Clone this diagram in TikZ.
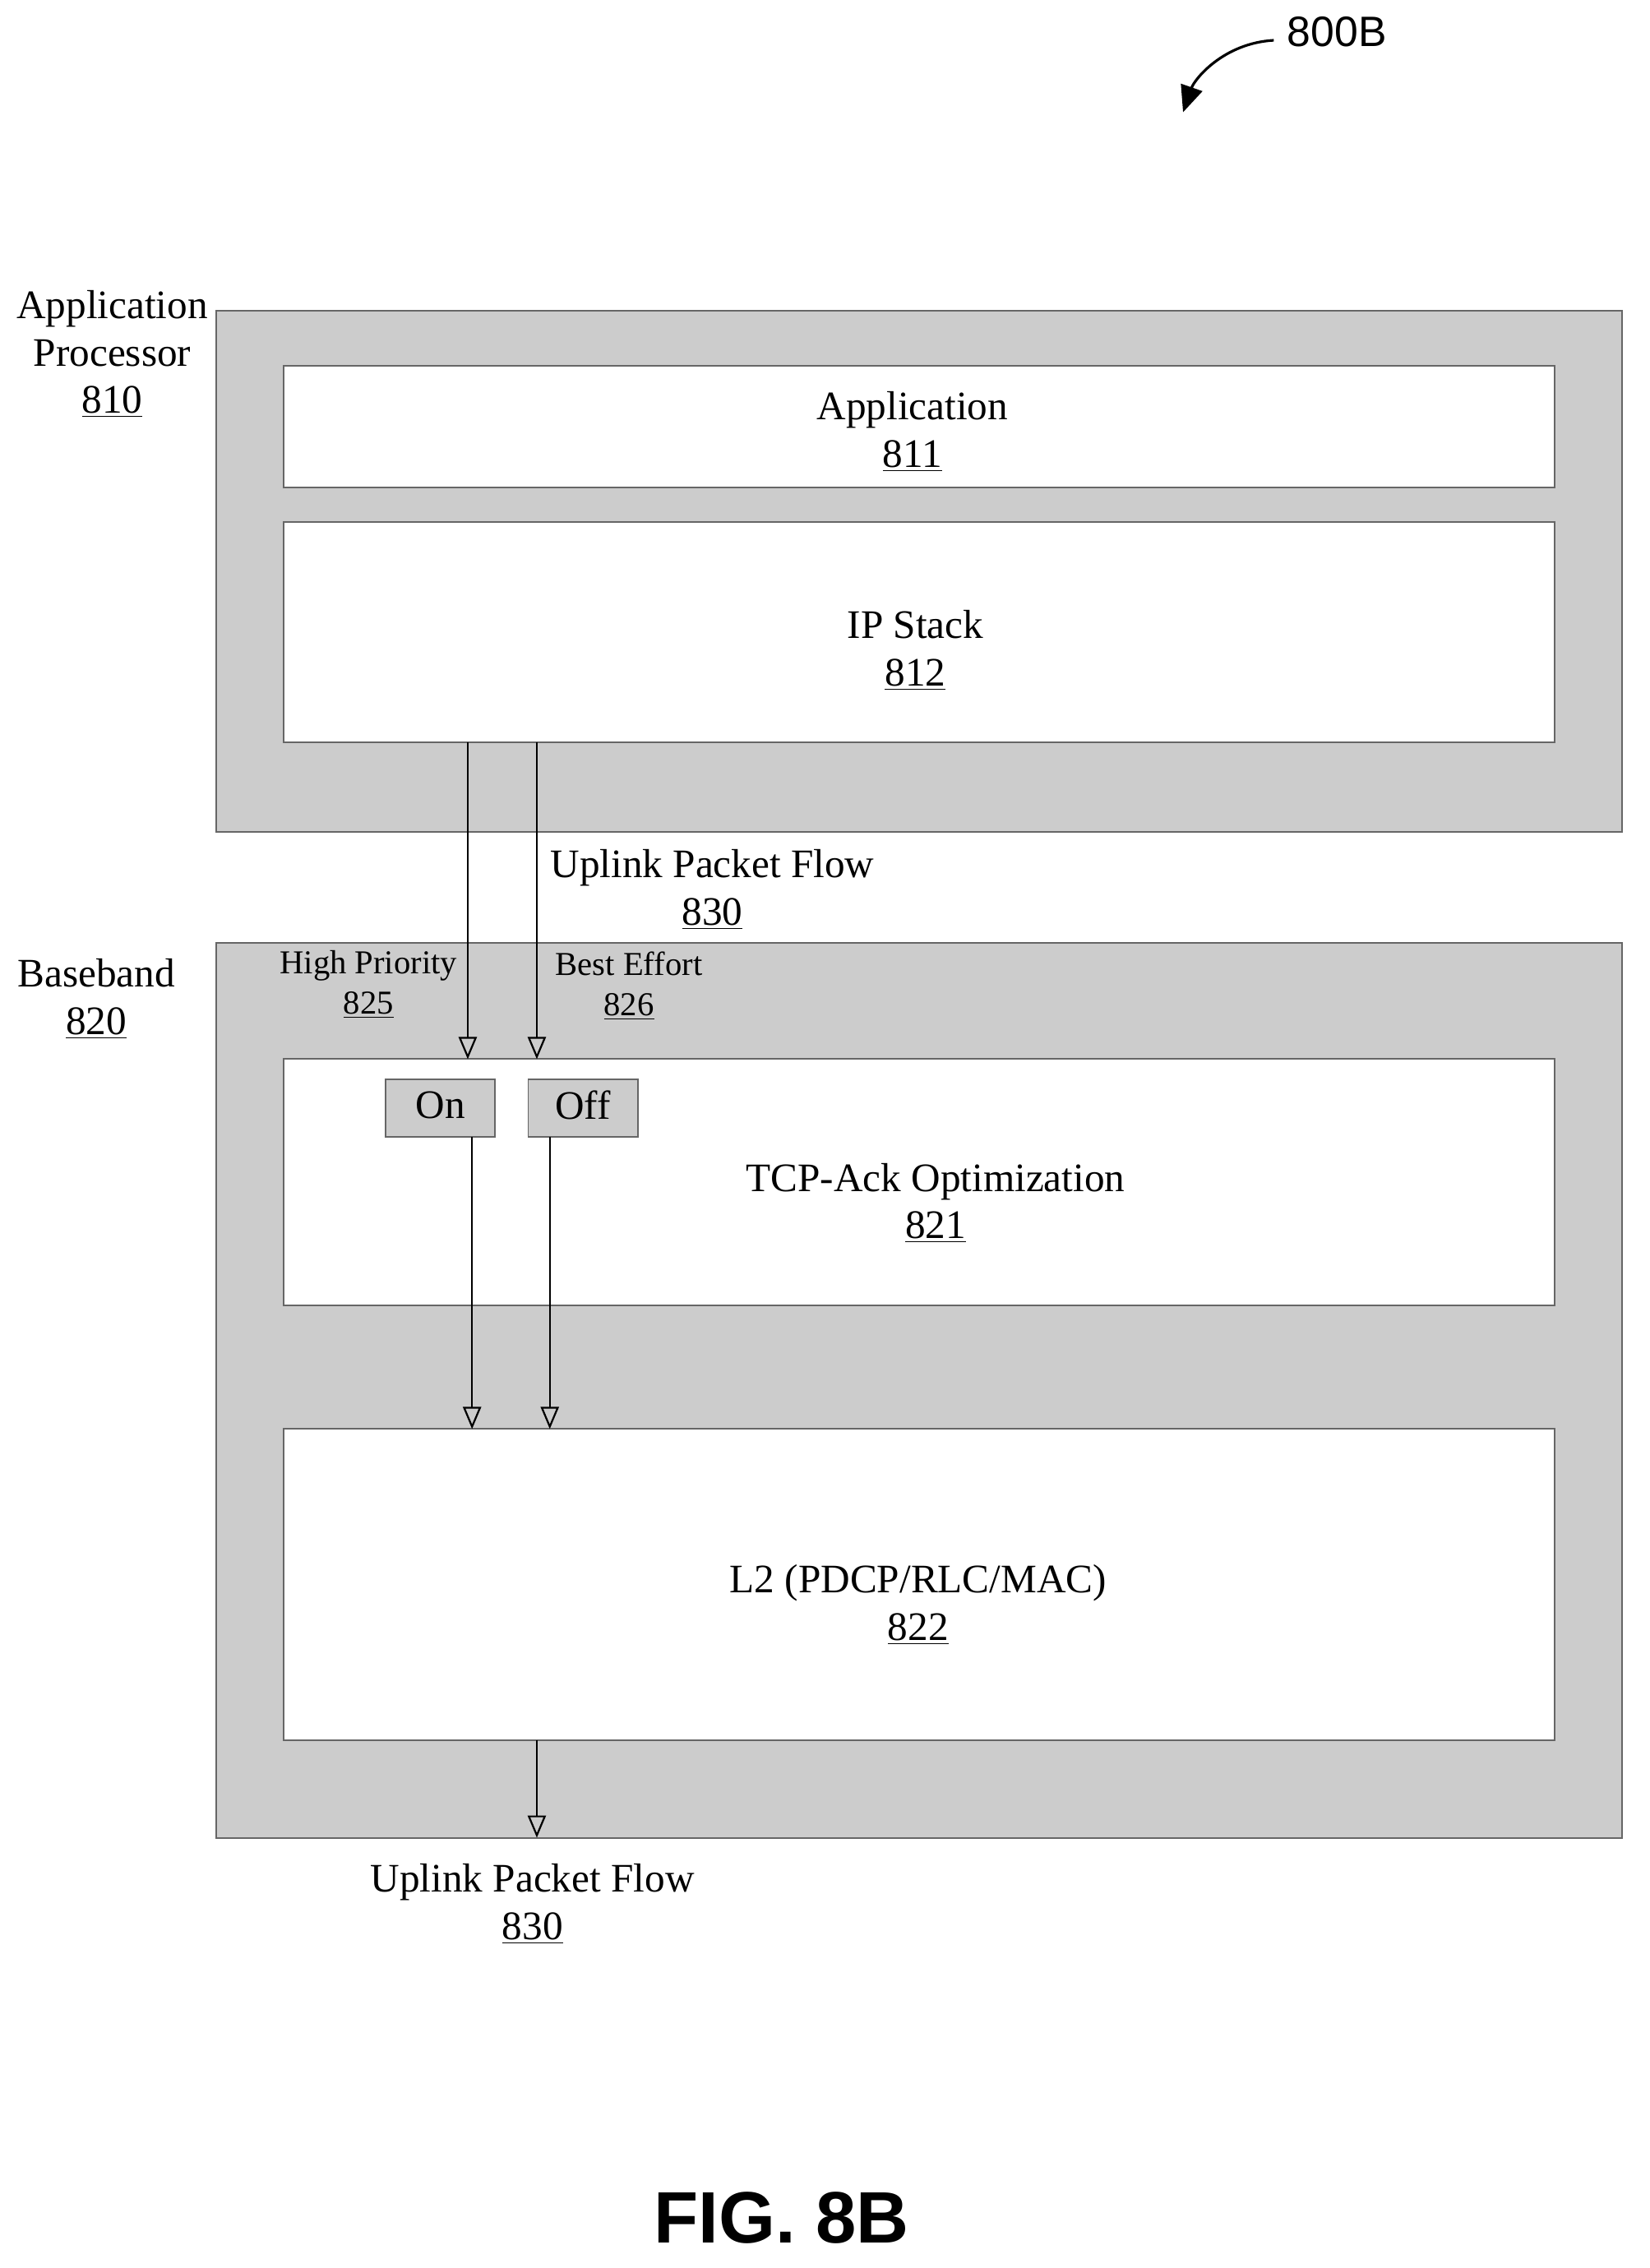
\documentclass[tikz,border=0pt]{standalone}
\usepackage{fontspec}
\setmainfont{Liberation Serif}
\newfontfamily\lsans{Liberation Sans}
\usetikzlibrary{arrows.meta}
\begin{document}
\begin{tikzpicture}[x=0.025cm,y=-0.025cm,
  outer/.style={draw=black!60,fill=black!20,line width=0.8pt},
  inner/.style={draw=black!60,fill=white,line width=0.8pt},
  sw/.style={draw=black!60,fill=black!20,line width=0.8pt},
  lbl/.style={align=center,font=\fontsize{20}{23.4}\selectfont},
  slbl/.style={align=center,font=\fontsize{16.5}{20}\selectfont},
  arr/.style={-{Triangle[open,length=11pt,width=9pt]},line width=0.9pt}]
\useasboundingbox (0,0) rectangle (1146,1576);
% boxes
\draw[outer] (150,216) rectangle (1127,578);
\draw[inner] (197,254) rectangle (1080,339);
\draw[inner] (197,363) rectangle (1080,516);
\draw[outer] (150,655) rectangle (1127,1277);
\draw[inner] (197,736) rectangle (1080,907);
\draw[inner] (197,993) rectangle (1080,1209);
\draw[sw] (268,750) rectangle (344,790);
\draw[sw] (367,750) rectangle (443,790);
\node[lbl] (on) at (306,768) {On};
\node[lbl] (off) at (405,768) {Off};
% labels
\node[lbl] (ap) at (78,246) {Application\\Processor\\\underline{810}};
\node[lbl] (bb) at (67,694) {Baseband\\\underline{820}};
\node[lbl] (app) at (634,300) {Application\\\underline{811}};
\node[lbl] (ip) at (636,452) {IP Stack\\\underline{812}};
\node[lbl] (tcp) at (650,836) {TCP-Ack Optimization\\\underline{821}};
\node[lbl] (l2) at (638,1115) {L2 (PDCP/RLC/MAC)\\\underline{822}};
\node[lbl] (uf1) at (495,618) {Uplink Packet Flow\\\underline{830}};
\node[lbl] (uf2) at (370,1323) {Uplink Packet Flow\\\underline{830}};
\node[slbl] (hp) at (256,684) {High Priority\\\underline{825}};
\node[slbl] (be) at (437,685) {Best Effort\\\underline{826}};
% arrows
\coordinate (a1) at (325,516); \coordinate (a1e) at (325,736);
\coordinate (a2) at (373,516); \coordinate (a2e) at (373,736);
\coordinate (b1) at (328,790); \coordinate (b1e) at (328,993);
\coordinate (b2) at (382,790); \coordinate (b2e) at (382,993);
\coordinate (c1) at (373,1209); \coordinate (c1e) at (373,1277);
\draw[arr] (a1) -- (a1e);
\draw[arr] (a2) -- (a2e);
\draw[arr] (b1) -- (b1e);
\draw[arr] (b2) -- (b2e);
\draw[arr] (c1) -- (c1e);
% figure label
\node[font=\lsans\fontsize{21}{24}\selectfont] (ref) at (929,22) {800B};
\coordinate (rs) at (885,28);
\coordinate (re) at (822,78);
\draw[line width=1.3pt,-{Triangle[length=13pt,width=11pt]}] (rs) .. controls (850,30) and (830,55) .. (re);
\node[font=\lsans\bfseries\fontsize{36}{40}\selectfont] (fig) at (543,1541) {FIG. 8B};
\end{tikzpicture}
\end{document}
